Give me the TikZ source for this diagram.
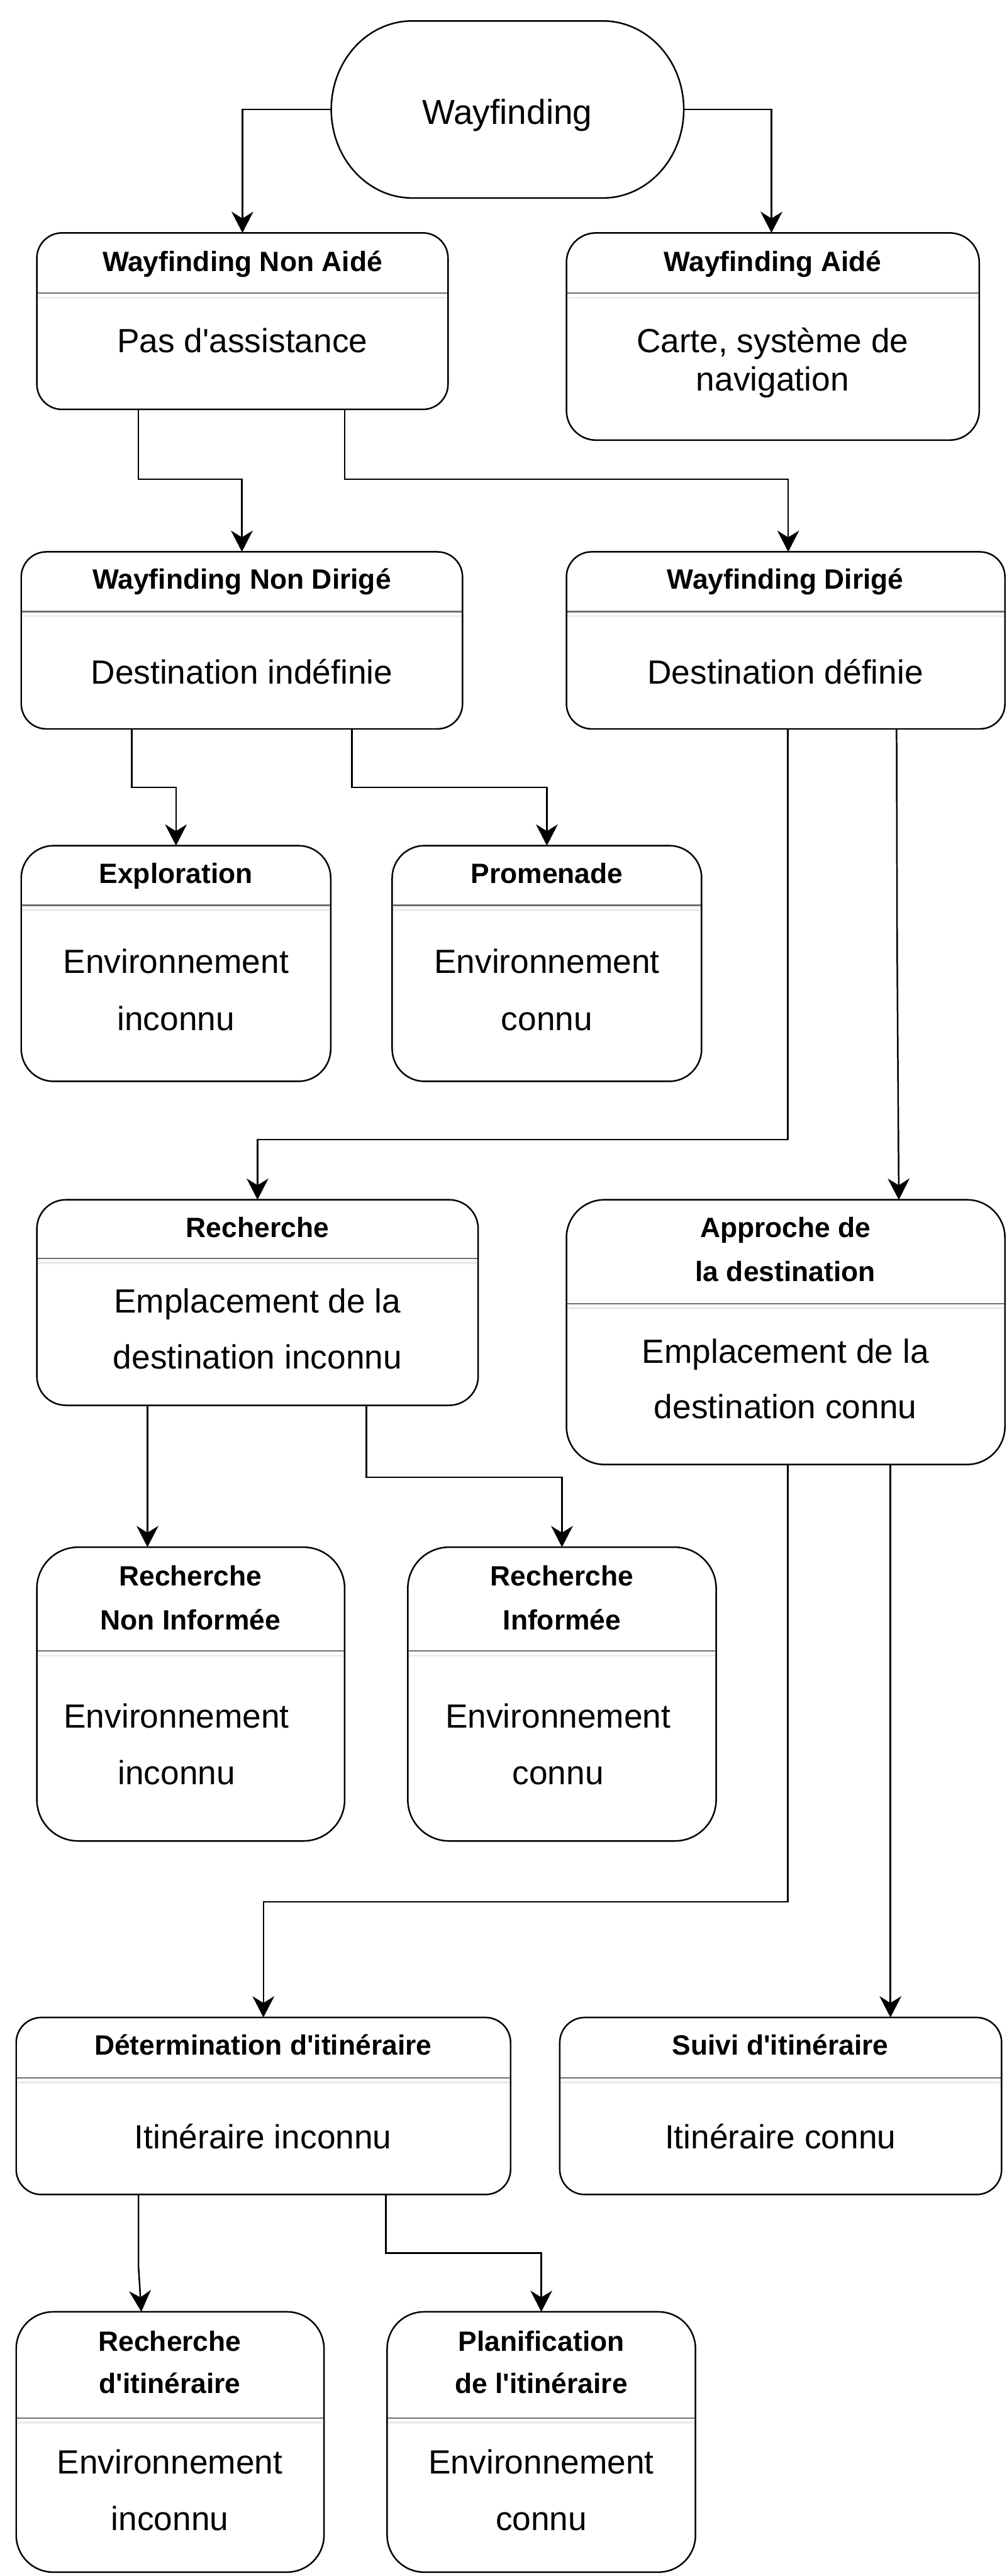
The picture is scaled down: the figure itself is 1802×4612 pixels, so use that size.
\documentclass[tikz,border=0pt]{standalone}
\usepackage{fontspec}
\setmainfont{Liberation Sans}[Ligatures=TeXOff]
\usetikzlibrary{arrows.meta}
\definecolor{sepgrey}{HTML}{6E6E6E}
\definecolor{seplightgrey}{HTML}{ECECEC}
\tikzset{
  box/.style={draw, line width=1.4pt, inner sep=0pt, outer sep=0pt},
  ttl/.style={font=\fontsize{25}{39.5}\selectfont\bfseries, align=center, inner sep=0pt},
  bdy/.style={font=\fontsize{30}{51}\selectfont, align=center, inner sep=0pt},
  ttlone/.style={ttl, text height=24.25pt, text depth=6.25pt},
  bdyone/.style={bdy, text height=29.1pt, text depth=7.5pt},
  arr/.style={line width=1.4pt, -{Stealth[length=19pt,width=19.5pt,inset=6pt]}},
  sepline/.style={draw=sepgrey, line width=1.3pt},
  seplineb/.style={draw=seplightgrey, line width=2pt},
}
\begin{document}
\begin{tikzpicture}[x=0.5pt, y=-0.5pt]
\useasboundingbox (0,0) rectangle (1802,4612);

% root
\node (wf) [minimum width=315.5pt, minimum height=158.5pt, inner sep=0pt, outer sep=0pt] at (908.5,196) {};
\draw[line width=1.4pt] ([xshift=72.5pt]wf.north west) -- ([xshift=-72.5pt]wf.north east)
  arc[start angle=90, end angle=-90, x radius=72.5pt, y radius=79.25pt]
  -- ([xshift=72.5pt]wf.south west)
  arc[start angle=270, end angle=90, x radius=72.5pt, y radius=79.25pt] -- cycle;
\node (wft) [font=\fontsize{31}{37}\selectfont, inner sep=0pt, text height=30pt, text depth=7.7pt] at (908,200) {Wayfinding};

% boxes
\node (wna) [box, rounded corners=22.5pt, minimum width=368pt, minimum height=158pt] at (434,575) {};
\node (wa) [box, rounded corners=26.5pt, minimum width=369.5pt, minimum height=185.5pt] at (1383.5,602.5) {};
\node (wnd) [box, rounded corners=22.5pt, minimum width=395pt, minimum height=158.5pt] at (433,1146.5) {};
\node (wd) [box, rounded corners=22.5pt, minimum width=392.5pt, minimum height=158.5pt] at (1406.5,1146.5) {};
\node (expl) [box, rounded corners=29pt, minimum width=277pt, minimum height=211pt] at (315,1725) {};
\node (prom) [box, rounded corners=29pt, minimum width=277pt, minimum height=211pt] at (979,1725) {};
\node (rech) [box, rounded corners=26pt, minimum width=395pt, minimum height=184pt] at (461,2332) {};
\node (appr) [box, rounded corners=34pt, minimum width=392.5pt, minimum height=237pt] at (1406.5,2385) {};
\node (rni) [box, rounded corners=37pt, minimum width=275.5pt, minimum height=263pt] at (341.5,3033) {};
\node (ri) [box, rounded corners=37pt, minimum width=276pt, minimum height=263pt] at (1006,3033) {};
\node (det) [box, rounded corners=22.5pt, minimum width=442.5pt, minimum height=158.5pt] at (471.5,3770.5) {};
\node (suivi) [box, rounded corners=22.5pt, minimum width=395.5pt, minimum height=158.5pt] at (1397.5,3770.5) {};
\node (rdi) [box, rounded corners=33pt, minimum width=275.5pt, minimum height=233pt] at (304.5,4372) {};
\node (pl) [box, rounded corners=33pt, minimum width=276pt, minimum height=233pt] at (969,4372) {};

% separators
\foreach \b/\s in {wna/525, wa/525, wnd/1095, wd/1095, expl/1621, prom/1621, rech/2253, appr/2334, rni/2956, ri/2956, det/3720, suivi/3720, rdi/4329, pl/4329}{
  \draw[seplineb] ([xshift=1pt]\b.west |- 0,\s+8) -- ([xshift=-1pt]\b.east |- 0,\s+8);
  \draw[sepline] ([xshift=0.7pt]\b.west |- 0,\s) -- ([xshift=-0.7pt]\b.east |- 0,\s);
}

% texts
\node (wnat) [ttlone] at (434,468) {Wayfinding Non Aidé};
\node (wnab) [bdyone] at (434,610) {Pas d'assistance};
\node (wat) [ttlone] at (1383,468) {Wayfinding Aidé};
\node (wab) [bdy, font=\fontsize{30}{34.5}\selectfont] at (1383,649.5) {Carte, système de\\navigation};
\node (wndt) [ttlone] at (433,1037) {Wayfinding Non Dirigé};
\node (wndb) [bdyone] at (433,1203) {Destination indéfinie};
\node (wdt) [ttlone] at (1406,1037) {Wayfinding Dirigé};
\node (wdb) [bdyone] at (1406,1203) {Destination définie};
\node (explt) [ttlone] at (315,1563) {Exploration};
\node (explb) [bdy] at (315,1772) {Environnement\\inconnu};
\node (promt) [ttlone] at (979,1563) {Promenade};
\node (promb) [bdy] at (979,1772) {Environnement\\connu};
\node (recht) [ttlone] at (461,2197) {Recherche};
\node (rechb) [bdy, font=\fontsize{30}{50}\selectfont] at (461,2379) {Emplacement de la\\destination inconnu};
\node (apprt) [ttl] at (1406,2236.5) {Approche de\\la destination};
\node (apprb) [bdy, font=\fontsize{30}{49.5}\selectfont] at (1406,2468.5) {Emplacement de la\\destination connu};
\node (rnit) [ttl] at (341,2860.5) {Recherche\\Non Informée};
\node (rnib) [bdy] at (316,3123) {Environnement\\inconnu};
\node (rit) [ttl] at (1006,2860.5) {Recherche\\Informée};
\node (rib) [bdy] at (999,3123) {Environnement\\connu};
\node (dett) [ttlone] at (471,3661) {Détermination d'itinéraire};
\node (detb) [bdyone] at (471,3825) {Itinéraire inconnu};
\node (suivit) [ttlone] at (1397,3661) {Suivi d'itinéraire};
\node (suivib) [bdyone] at (1397,3825) {Itinéraire connu};
\node (rdit) [ttl, font=\fontsize{25}{38}\selectfont\bfseries] at (304,4229) {Recherche\\d'itinéraire};
\node (rdib) [bdy, font=\fontsize{30}{50.5}\selectfont] at (304,4458.5) {Environnement\\inconnu};
\node (plt) [ttl, font=\fontsize{25}{38}\selectfont\bfseries] at (969,4229) {Planification\\de l'itinéraire};
\node (plb) [bdy, font=\fontsize{30}{50.5}\selectfont] at (969,4458.5) {Environnement\\connu};

% connectors
\draw[arr] (wf.west) -| (wna.north);
\draw[arr] (wf.east) -| (wa.north -| 1381,0);
\draw[arr] (wna.south -| 248,0) -- (248,858) -| (wnd.north);
\draw[arr] (wna.south -| 617,0) -- (617,858) -| (wd.north -| 1411,0);
\draw[arr] (wnd.south -| 236,0) -- (236,1410) -| (expl.north);
\draw[arr] (wnd.south -| 630,0) -- (630,1410) -| (prom.north);
\draw[arr] (wd.south -| 1410,0) -- (1410,2040) -| (rech.north);
\draw[arr] (wd.south -| 1605,0) -- (1606,1700) -- (appr.north -| 1609,0);
\draw[arr] (rech.south -| 264,0) -- (rni.north -| 264,0);
\draw[arr] (rech.south -| 656,0) -- (656,2645) -| (ri.north);
\draw[arr] (appr.south -| 1410,0) -- (1410,3405) -| (det.north);
\draw[arr] (appr.south -| 1594,0) -- (suivi.north -| 1594,0);
\draw[arr] (det.south -| 248,0) -- (248,4060) -- (rdi.north -| 253,0);
\draw[arr] (det.south -| 691,0) -- (691,4034) -| (pl.north);
\end{tikzpicture}
\end{document}
